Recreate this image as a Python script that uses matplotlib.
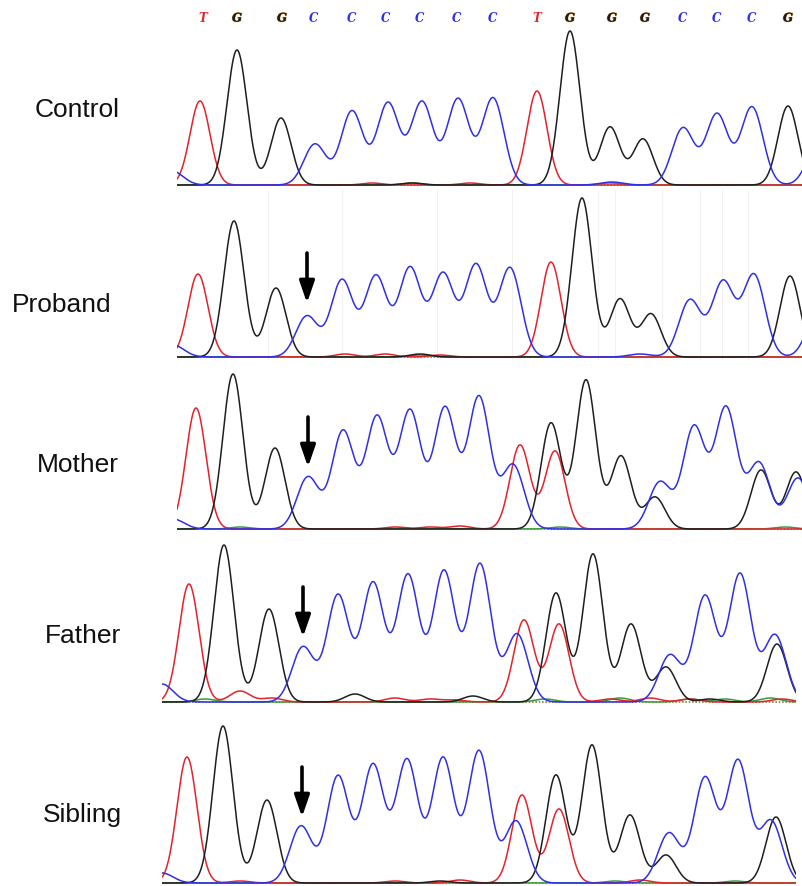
import numpy as np
import matplotlib.pyplot as plt
import matplotlib.patheffects as pe

# ---- data: peaks as (scan, height) per channel ----
samples = ["Control", "Proband", "Mother", "Father", "Sibling"]

control_T = [(200, 84), (537, 94), (372, 2), (470, 2)]
control_G = [(237, 135), (281, 67), (570, 154), (610, 58), (643, 46), (788, 79), (412, 2)]
control_C = [(172, 14), (315, 41), (352, 74), (388, 82), (422, 83), (458, 86), (493, 87),
             (683, 57), (717, 71), (752, 78), (818, 40), (612, 3)]
control_A = [(412, 2), (610, 2)]

proband_T = [(198, 83), (551, 95), (345, 3), (385, 3), (440, 2)]
proband_G = [(234, 136), (276, 69), (582, 159), (620, 58), (651, 43), (790, 81), (420, 3)]
proband_C = [(173, 12), (307, 41), (342, 77), (376, 81), (410, 89), (443, 83), (476, 92),
             (510, 89), (690, 57), (723, 75), (754, 82), (818, 45), (640, 3)]
proband_A = [(420, 2)]

mother_T = [(196, 121), (520, 84), (555, 78), (395, 2), (430, 2), (460, 3)]
mother_G = [(233, 155), (275, 81), (551, 106), (586, 149), (621, 73), (655, 32),
            (761, 59), (796, 57)]
mother_C = [(173, 10), (308, 52), (343, 98), (377, 112), (410, 118), (445, 121), (479, 132),
            (513, 64), (660, 47), (694, 102), (726, 121), (759, 66), (798, 51)]
mother_A = [(240, 2), (560, 2), (785, 2)]

father_T = [(189, 118), (240, 11), (272, 4), (395, 4), (430, 3), (455, 2), (524, 82),
            (559, 78), (610, 3), (650, 4), (690, 3), (782, 3)]
father_G = [(224, 157), (269, 93), (355, 8), (473, 6), (556, 109), (593, 148),
            (631, 78), (666, 35), (710, 3), (777, 58)]
father_C = [(162, 18), (303, 55), (338, 107), (373, 119), (408, 127), (444, 131), (480, 138),
            (517, 68), (670, 47), (705, 106), (740, 128), (775, 67)]
father_A = [(205, 3), (545, 3), (620, 4), (690, 3), (725, 3), (770, 4)]

sibling_T = [(187, 126), (240, 2), (395, 2), (460, 3), (522, 88), (559, 74), (640, 3)]
sibling_G = [(223, 157), (267, 83), (440, 2), (556, 108), (592, 138), (630, 68),
             (666, 28), (776, 66)]
sibling_C = [(162, 10), (301, 57), (338, 107), (373, 118), (407, 123), (443, 125), (479, 132),
             (516, 62), (669, 50), (705, 105), (738, 122), (771, 62)]
sibling_A = [(615, 2), (735, 2)]

traces = {
    "Control": (control_T, control_G, control_C, control_A),
    "Proband": (proband_T, proband_G, proband_C, proband_A),
    "Mother": (mother_T, mother_G, mother_C, mother_A),
    "Father": (father_T, father_G, father_C, father_A),
    "Sibling": (sibling_T, sibling_G, sibling_C, sibling_A),
}

# base calls over the control trace
bases = list("TGGCCCCCCTGGGCCCG")
base_scan = [203, 237, 282, 314, 352, 386, 420, 457, 493, 537, 570, 612, 645, 683, 717, 752, 788]

# faint scan gridlines visible in the proband trace
proband_grid = [268, 342, 437, 512, 598, 615, 662, 700, 722, 748]

# mutation arrows: (scan, tip height, tail height)
arrows = {
    "Proband": (307, 54, 104),
    "Mother": (308, 62, 112),
    "Father": (303, 65, 115),
    "Sibling": (302, 66, 116),
}

# ---- layout (pixels) ----
W, H = 803, 886
panel_box = {  # left, right, baseline, top
    "Control": (177, 803, 185, 22),
    "Proband": (177, 803, 357, 190),
    "Mother": (177, 803, 529, 365),
    "Father": (162, 796, 702, 535),
    "Sibling": (162, 796, 883, 712),
}
label_pos = {
    "Control": (77, 117),
    "Proband": (62, 312),
    "Mother": (78, 472),
    "Father": (83, 643),
    "Sibling": (82, 822),
}

colors = {"T": "#e3222b", "G": "#1e1e1e", "C": "#2f2fe8", "A": "#3a9a3a"}
sigma = {"T": 10.0, "G": 10.0, "C": 11.0, "A": 10.0}


def trace(peaks, x, s):
    y = np.zeros_like(x)
    for pos, h in peaks:
        y += h * np.exp(-((x - pos) ** 2) / (2 * s ** 2))
    return y


fig = plt.figure(figsize=(W / 100, H / 100), dpi=100)
fig.patch.set_facecolor("white")

for name in samples:
    L, R, B, T = panel_box[name]
    lo = -3
    hi = B - T
    ax = fig.add_axes([L / W, 1 - (B - lo) / H, (R - L) / W, (hi - lo) / H])
    ax.set_xlim(L, R)
    ax.set_ylim(lo, hi)
    ax.axis("off")

    if name == "Proband":
        for gx in proband_grid:
            ax.axvline(gx, color="#f1f1f1", lw=0.8, zorder=0)

    x = np.linspace(L - 30, R + 30, 2000)
    # baseline
    ax.plot([L, R], [0, 0], color="#8a7a50", lw=1.2, ls=(0, (1, 1)), zorder=1)
    for key, peaks in zip(["A", "T", "G", "C"],
                          [traces[name][3], traces[name][0], traces[name][1], traces[name][2]]):
        y = trace(peaks, x, sigma[key])
        ax.plot(x, y, color=colors[key], lw=1.1, zorder=2 if key != "A" else 1.5,
                solid_capstyle="round")

    if name in arrows:
        sx, tip, tail = arrows[name]
        ax.annotate("", xy=(sx, tip), xytext=(sx, tail),
                    arrowprops=dict(arrowstyle="-|>,head_length=1.3,head_width=0.45",
                                    color="black", lw=2.6, shrinkA=0, shrinkB=0),
                    annotation_clip=False)

    if name == "Control":
        for b, sx in zip(bases, base_scan):
            txt = ax.text(sx, B - 18, b, color=colors[b], fontsize=8.5,
                          family="DejaVu Serif", fontweight="bold", fontstyle="italic",
                          ha="center", va="center", clip_on=False)
            if b == "G":
                txt.set_path_effects([pe.withStroke(linewidth=0.9, foreground="#e0b070"),
                                      pe.Normal()])

    lx, ly = label_pos[name]
    fig.text(lx / W, 1 - ly / H, name, fontsize=19, family="Liberation Sans",
             ha="center", va="baseline", color="#111111")

fig.savefig("out.png", dpi=100, facecolor="white")
